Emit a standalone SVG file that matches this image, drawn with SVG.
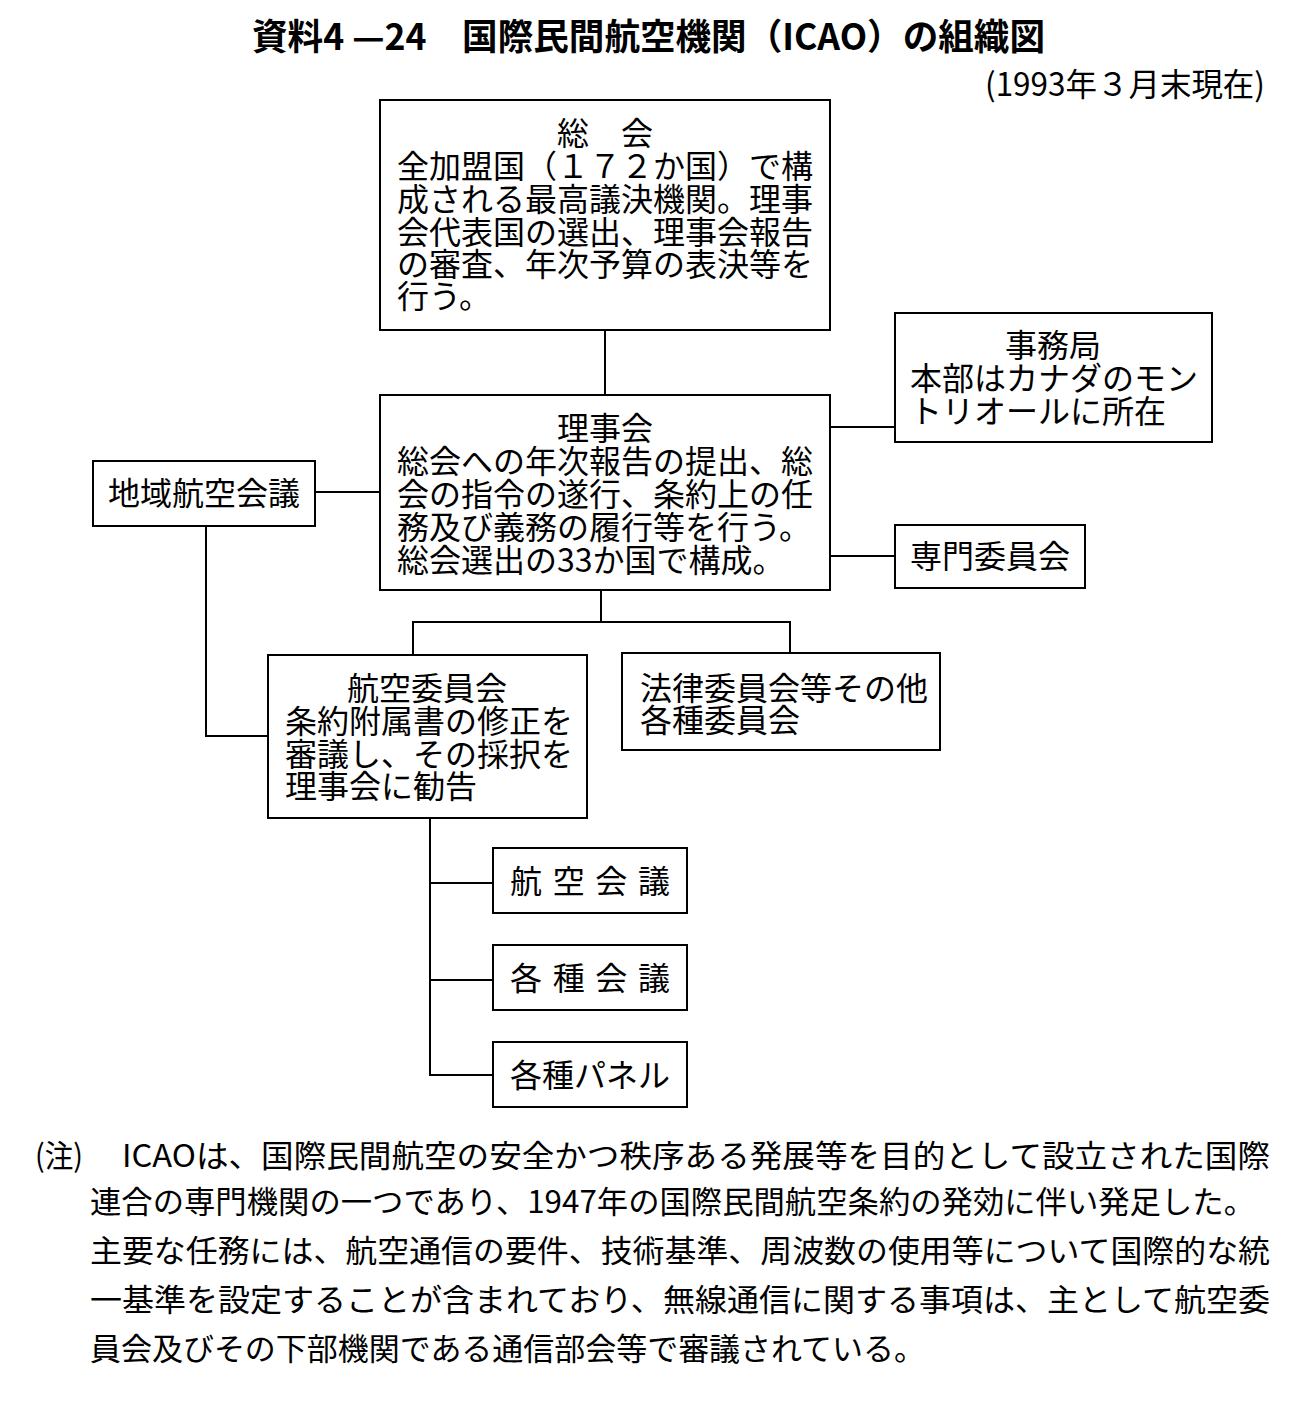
<svg xmlns="http://www.w3.org/2000/svg" width="1293" height="1423" viewBox="0 0 1293 1423">
<style>
text{font-family:"Noto Sans CJK JP","Noto Sans CJK SC",sans-serif;fill:#000}
.box{fill:#fff;stroke:#000;stroke-width:2}
.t{font-size:32px}
.c{text-anchor:middle}
.title{font-size:36px;font-weight:bold}
.note{font-size:31px}
#connectors line,#connectors polyline{stroke:#000;stroke-width:2;fill:none}
</style>
<rect width="1293" height="1423" fill="#fff"/>
<text class="title" x="252" y="50" textLength="793" lengthAdjust="spacingAndGlyphs">資料4 —24　国際民間航空機関（ICAO）の組織図</text>
<text class="t" x="985" y="96" textLength="280" lengthAdjust="spacingAndGlyphs">(1993年３月末現在)</text>
<g id="connectors">
<line x1="605" y1="330" x2="605" y2="395"/>
<line x1="830" y1="427" x2="895" y2="427"/>
<line x1="830" y1="556" x2="895" y2="556"/>
<line x1="315" y1="492" x2="380" y2="492"/>
<polyline points="206,526 206,736 268,736"/>
<line x1="601" y1="590" x2="601" y2="622"/>
<polyline points="413,655 413,622 790,622 790,653"/>
<polyline points="430,818 430,1075 493,1075"/>
<line x1="430" y1="883" x2="493" y2="883"/>
<line x1="430" y1="980" x2="493" y2="980"/>
</g>
<g id="n-soukai">
<rect class="box" x="380" y="100" width="450" height="230"/>
<text class="t c" x="605" y="145">総　会</text>
<text class="t" x="397" y="178">全加盟国（１７２か国）で構</text>
<text class="t" x="397" y="211">成される最高議決機関。理事</text>
<text class="t" x="397" y="244">会代表国の選出、理事会報告</text>
<text class="t" x="397" y="276">の審査、年次予算の表決等を</text>
<text class="t" x="397" y="308">行う。</text>
</g>
<g id="n-rijikai">
<rect class="box" x="380" y="395" width="450" height="195"/>
<text class="t c" x="605" y="440">理事会</text>
<text class="t" x="397" y="473">総会への年次報告の提出、総</text>
<text class="t" x="397" y="506">会の指令の遂行、条約上の任</text>
<text class="t" x="397" y="539">務及び義務の履行等を行う。</text>
<text class="t" x="397" y="572">総会選出の33か国で構成。</text>
</g>
<g id="n-jimukyoku">
<rect class="box" x="895" y="313" width="317" height="129"/>
<text class="t c" x="1053" y="357">事務局</text>
<text class="t" x="910" y="390">本部はカナダのモン</text>
<text class="t" x="910" y="423">トリオールに所在</text>
</g>
<g id="n-senmon">
<rect class="box" x="895" y="525" width="190" height="63"/>
<text class="t c" x="990" y="568">専門委員会</text>
</g>
<g id="n-chiiki">
<rect class="box" x="93" y="461" width="222" height="65"/>
<text class="t c" x="204" y="505">地域航空会議</text>
</g>
<g id="n-koku-iinkai">
<rect class="box" x="268" y="655" width="319" height="163"/>
<text class="t c" x="427" y="700">航空委員会</text>
<text class="t" x="285" y="733">条約附属書の修正を</text>
<text class="t" x="285" y="766">審議し、その採択を</text>
<text class="t" x="285" y="798">理事会に勧告</text>
</g>
<g id="n-horitsu">
<rect class="box" x="622" y="653" width="318" height="97"/>
<text class="t" x="640" y="700">法律委員会等その他</text>
<text class="t" x="640" y="732">各種委員会</text>
</g>
<g id="n-koku-kaigi">
<rect class="box" x="493" y="848" width="194" height="65"/>
<text class="t" x="510" y="893" textLength="160">航空会議</text>
</g>
<g id="n-kakushu-kaigi">
<rect class="box" x="493" y="945" width="194" height="65"/>
<text class="t" x="510" y="990" textLength="160">各種会議</text>
</g>
<g id="n-panel">
<rect class="box" x="493" y="1042" width="194" height="65"/>
<text class="t" x="510" y="1087" textLength="160">各種パネル</text>
</g>
<g id="note">
<text class="note" x="35" y="1167" textLength="48" lengthAdjust="spacingAndGlyphs">(注)</text>
<text class="note" x="122" y="1167" textLength="1148" lengthAdjust="spacingAndGlyphs">ICAOは、国際民間航空の安全かつ秩序ある発展等を目的として設立された国際</text>
<text class="note" x="90" y="1213" textLength="1165" lengthAdjust="spacingAndGlyphs">連合の専門機関の一つであり、1947年の国際民間航空条約の発効に伴い発足した。</text>
<text class="note" x="90" y="1262" textLength="1180" lengthAdjust="spacingAndGlyphs">主要な任務には、航空通信の要件、技術基準、周波数の使用等について国際的な統</text>
<text class="note" x="90" y="1311" textLength="1180" lengthAdjust="spacingAndGlyphs">一基準を設定することが含まれており、無線通信に関する事項は、主として航空委</text>
<text class="note" x="90" y="1360" textLength="835" lengthAdjust="spacingAndGlyphs">員会及びその下部機関である通信部会等で審議されている。</text>
</g>
</svg>
